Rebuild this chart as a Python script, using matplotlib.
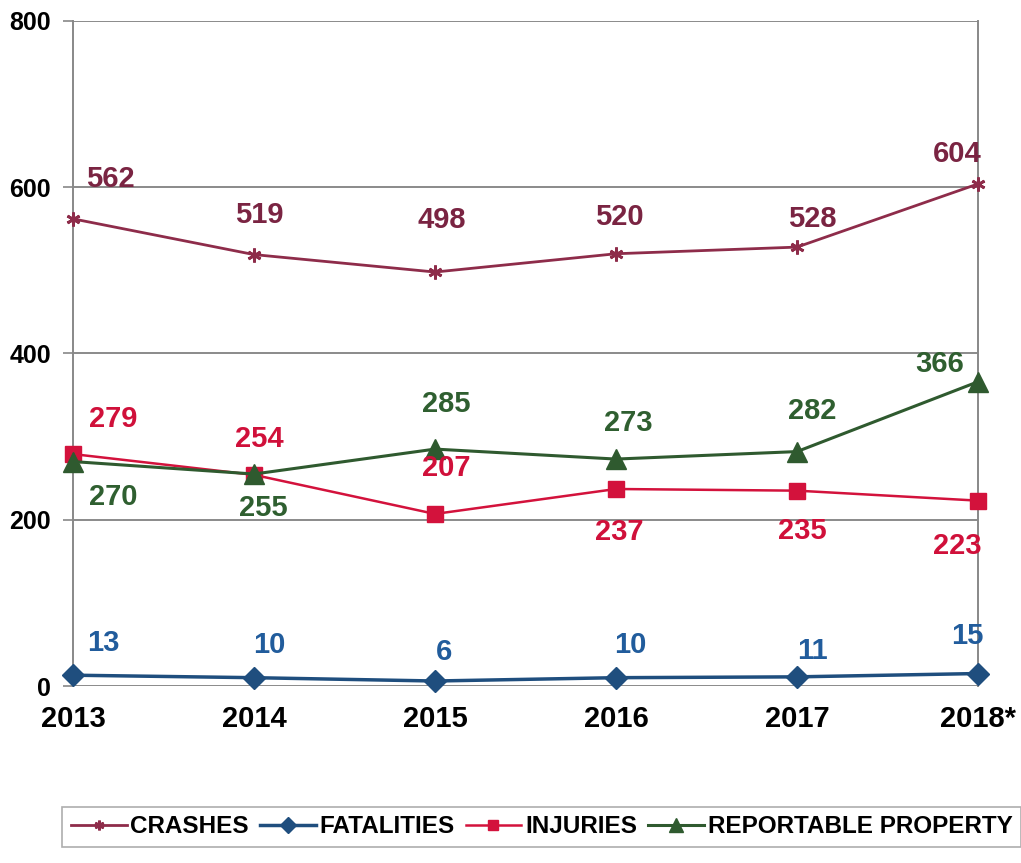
import matplotlib
matplotlib.use("Agg")
import matplotlib.pyplot as plt

years = ["2013", "2014", "2015", "2016", "2017", "2018*"]
crashes = [562, 519, 498, 520, 528, 604]
fatalities = [13, 10, 6, 10, 11, 15]
injuries = [279, 254, 207, 237, 235, 223]
reportable = [270, 255, 285, 273, 282, 366]
yticks = [0, 200, 400, 600, 800]

FONT = "Liberation Sans"

fig = plt.figure(figsize=(10.21, 8.63), dpi=100)
ax = fig.add_axes([73/1021, 1-686/863, (978-73)/1021, (686-21)/863])
x = list(range(len(years)))

c_cr, c_fa, c_in, c_rp = "#8E2C4A", "#1F4E7E", "#D3123C", "#2F5A2F"
t_cr, t_fa, t_in, t_rp = "#7A2442", "#215C9C", "#D0103A", "#2F5F30"

ax.plot(x, crashes, color=c_cr, lw=2, marker=(6, 2, 0), ms=10, mew=2,
        label="CRASHES", zorder=4, clip_on=False)
ax.plot(x, fatalities, color=c_fa, lw=2.5, marker="D", ms=11,
        label="FATALITIES", zorder=4, clip_on=False)
ax.plot(x, injuries, color=c_in, lw=1.8, marker="s", ms=11,
        label="INJURIES", zorder=4, clip_on=False)
ax.plot(x, reportable, color=c_rp, lw=2.2, marker="^", ms=15,
        label="REPORTABLE PROPERTY", zorder=4, clip_on=False)

ax.set_xlim(0, 5)
ax.set_ylim(0, 800)
ax.set_yticks(yticks)
ax.set_yticklabels([str(v) for v in yticks], fontsize=18, fontweight="bold", family=FONT)
ax.set_xticks(x)
ax.set_xticklabels(years, fontsize=21, fontweight="bold", family=FONT)
ax.tick_params(axis="x", length=0, pad=14)
ax.tick_params(axis="y", length=7, width=1.2, color="#888888", pad=9)
ax.yaxis.grid(True, color="#8a8a8a", lw=1.4)
ax.set_axisbelow(True)
for s in ["top", "bottom"]:
    ax.spines[s].set_visible(False)
for s in ["left", "right"]:
    ax.spines[s].set_color("#888888")
    ax.spines[s].set_linewidth(1.4)

lab_kw = dict(fontsize=21, fontweight="bold", family=FONT,
              ha="center", va="center", textcoords="offset points", zorder=5)

def px(dx, dy):
    return (dx * 0.72, -dy * 0.72)

cr_off = [(37, -40), (5, -40), (7, -52), (3, -37), (15, -28), (-21, -30)]
fa_off = [(30, -32), (15, -33), (9, -29), (14, -33), (15, -26), (-11, -38)]
in_off = [(40, -35), (5, -36), (11, -46), (3, 43), (5, 40), (-21, 45)]
rp_off = [(40, 35), (9, 34), (11, -45), (12, -36), (15, -41), (-38, -18)]

for series, offs, col in [(crashes, cr_off, t_cr), (fatalities, fa_off, t_fa),
                          (injuries, in_off, t_in), (reportable, rp_off, t_rp)]:
    for xi, v, (dx, dy) in zip(x, series, offs):
        ax.annotate(str(v), (xi, v), xytext=px(dx, dy), color=col, **lab_kw)

leg = fig.legend(loc="lower left", bbox_to_anchor=(50/1021, 4/863), ncol=4,
                 frameon=True, fancybox=False, edgecolor="#9a9a9a",
                 prop={"family": FONT, "weight": "bold", "size": 17.5},
                 handlelength=2.3, handletextpad=0.15, columnspacing=0.45,
                 borderpad=0.35, markerscale=0.7)
leg.get_frame().set_linewidth(1.2)

fig.savefig("out.png", dpi=100)
